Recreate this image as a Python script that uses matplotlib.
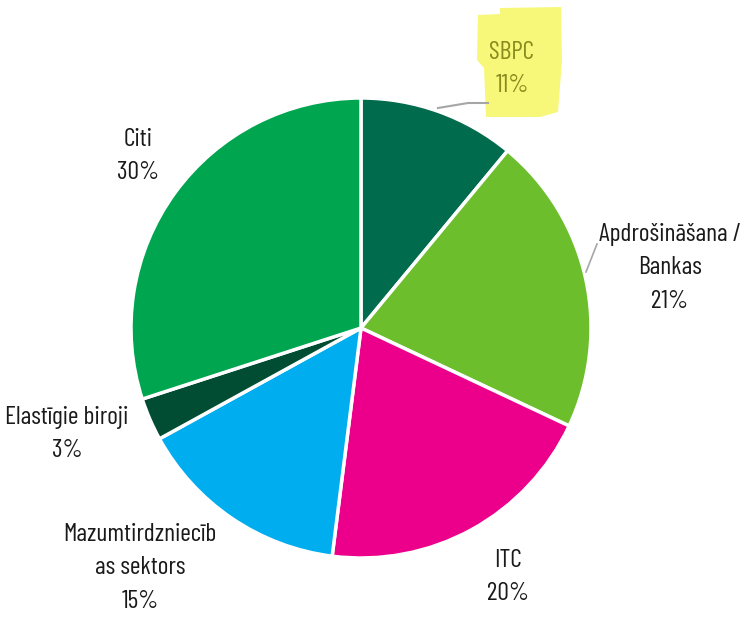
import matplotlib.pyplot as plt
from matplotlib.patches import Polygon

names = ['SBPC', 'Apdrošināšana /\nBankas', 'ITC', 'Mazumtirdzniecīb\nas sektors',
         'Elastīgie biroji', 'Citi']
shares = [11, 21, 20, 15, 3, 30]
colors = ['#006B4D', '#6CBE2C', '#EC008B', '#00AEEF', '#004D33', '#00A550']

plt.rcParams['font.family'] = ['Barlow Condensed', 'DejaVu Sans']

W, H = 743, 617
fig = plt.figure(figsize=(W / 100, H / 100), dpi=100)
ax = fig.add_axes([0, 0, 1, 1])

# pixel coordinates, y measured from the top
ax.pie(shares, colors=colors, startangle=90, counterclock=False,
       center=(361, H - 328), radius=230, frame=True,
       wedgeprops=dict(edgecolor='white', linewidth=2.5))
ax.set_xlim(0, W)
ax.set_ylim(0, H)
ax.set_aspect('auto')
ax.axis('off')

def yy(v):
    return H - v

# yellow highlight behind SBPC label
hl = Polygon([(478, yy(15)), (500, yy(14)), (500, yy(8)), (561, yy(7)), (562, yy(60)),
              (558, yy(112)), (540, yy(117)), (486, yy(117)), (484, yy(68)), (477, yy(60))],
             closed=True, facecolor='#F7F77A', edgecolor='none', zorder=1)
ax.add_patch(hl)

# leader lines
ax.plot([438, 468, 488], [yy(108), yy(103), yy(103)], color='#A6A6A6', lw=1.5, zorder=2)
ax.plot([586, 597], [yy(272), yy(244)], color='#A6A6A6', lw=1.2, zorder=2)

pos = [(512, 69), (670, 268), (508, 577), (140, 568), (67, 434), (138, 156)]
for name, s, (x, y) in zip(names, shares, pos):
    c = '#8A8A1E' if name == 'SBPC' else '#1A1A1A'
    ax.text(x, yy(y), f'{name}\n{s}%', ha='center', va='center', fontsize=18.5,
            color=c, linespacing=1.6, zorder=3)

fig.savefig('out.png', dpi=100)
